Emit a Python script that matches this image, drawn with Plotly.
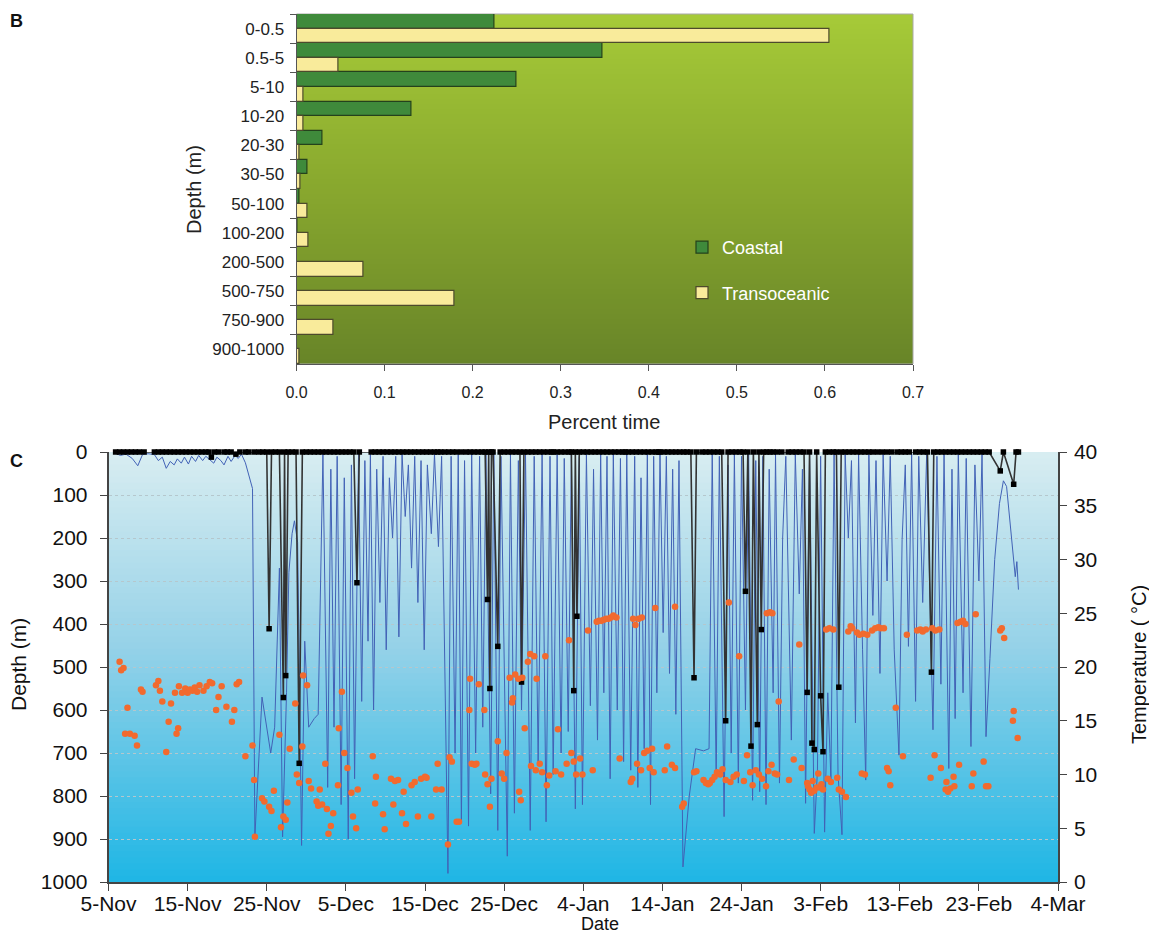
import plotly.graph_objects as go
from datetime import datetime, timedelta

# ---------------- Panel B data ----------------
depth_bins = ["0-0.5", "0.5-5", "5-10", "10-20", "20-30", "30-50", "50-100",
              "100-200", "200-500", "500-750", "750-900", "900-1000"]
coastal_pct = [0.225, 0.347, 0.250, 0.131, 0.030, 0.012, 0.003, 0.001, 0, 0, 0, 0]
transoceanic_pct = [0.605, 0.048, 0.008, 0.008, 0.003, 0.005, 0.013, 0.014,
                    0.076, 0.179, 0.042, 0.003]

# ---------------- Panel C data ----------------
start_date = datetime(2007, 11, 5)
date_tick_vals = ["2007-11-05", "2007-11-15", "2007-11-25", "2007-12-05", "2007-12-15",
                  "2007-12-25", "2008-01-04", "2008-01-14", "2008-01-24", "2008-02-03",
                  "2008-02-13", "2008-02-23", "2008-03-04"]
date_tick_labels = ["5-Nov", "15-Nov", "25-Nov", "5-Dec", "15-Dec", "25-Dec", "4-Jan",
                    "14-Jan", "24-Jan", "3-Feb", "13-Feb", "23-Feb", "4-Mar"]

# transoceanic dive track (days after 5 Nov, depth m)
transoceanic_day = [
    0.9, 1.5, 2.2, 3.0, 3.7, 4.3, 5.0, 5.8, 6.3, 6.8,
    7.3, 7.8, 8.3, 8.7, 9.2, 9.6, 10.1, 10.5, 11.0, 11.4,
    11.9, 12.3, 12.8, 13.3, 13.7, 14.2, 14.6, 15.1, 15.5, 16.0,
    16.4, 16.8, 17.3, 17.8, 18.2, 18.5, 19.4, 20.5, 21.0, 21.6,
    22.0, 22.5, 22.8, 23.2, 23.5, 23.9, 24.4, 24.8, 25.3, 26.0,
    26.5, 27.1, 27.7, 28.1, 28.5, 28.9, 29.4, 29.8, 30.3, 30.7,
    31.1, 31.6, 32.0, 32.4, 32.8, 33.1, 33.5, 33.9, 34.3, 34.7,
    35.1, 35.5, 35.9, 36.3, 36.7, 37.1, 37.5, 37.9, 38.3, 38.7,
    39.1, 39.5, 39.9, 40.3, 40.8, 41.2, 41.7, 42.1, 42.9, 43.3,
    43.8, 44.2, 44.6, 45.0, 45.5, 45.9, 46.4, 46.9, 47.3, 47.7,
    48.3, 48.7, 49.2, 49.6, 50.4, 50.8, 51.3, 51.8, 52.2, 52.7,
    53.3, 53.8, 54.3, 54.8, 55.3, 55.8, 56.2, 56.7, 57.2, 57.6,
    58.1, 58.5, 59.0, 59.5, 59.9, 60.4, 60.9, 61.3, 61.8, 62.2,
    62.6, 63.0, 63.4, 63.8, 64.3, 64.7, 65.1, 65.5, 66.0, 66.5,
    66.9, 67.3, 67.7, 68.1, 68.5, 68.9, 69.3, 69.7, 70.1, 70.5,
    70.9, 71.3, 71.7, 72.1, 72.6, 73.4, 74.2, 75.2, 75.9, 76.3,
    76.8, 77.2, 77.8, 78.3, 78.7, 79.1, 79.6, 80.0, 80.5, 80.9,
    81.4, 81.8, 82.3, 82.7, 83.1, 83.5, 84.0, 84.3, 84.8, 85.2,
    85.6, 86.3, 86.8, 87.3, 87.7, 88.1, 88.6, 89.2, 89.6, 90.0,
    90.5, 90.9, 91.3, 91.7, 92.2, 92.7, 93.1, 93.5, 93.9, 94.4,
    94.8, 95.3, 95.7, 96.1, 96.6, 97.0, 97.5, 97.9, 98.4, 98.8,
    99.3, 99.9, 100.3, 100.7, 101.1, 101.5, 102.0, 102.4, 102.9, 103.4,
    104.2, 104.7, 105.2, 105.6, 106.2, 106.6, 107.0, 107.4, 108.0, 108.4,
    109.0, 109.5, 110.0, 110.4, 110.9, 111.4, 112.0, 112.6, 113.1, 113.5,
    114.0, 114.4, 114.6, 114.8, 115.0]
transoceanic_depth = [
    3, 8, 5, 15, 32, 6, 4, 6, 20, 12,
    38, 22, 30, 16, 26, 12, 28, 10, 22, 8,
    20, 10, 18, 26, 12, 20, 30, 10, 22, 8,
    15, 5, 25, 60, 85, 895, 570, 700, 640, 270,
    895, 560, 280, 190, 160, 210, 915, 440, 640, 620,
    610, 5, 780, 40, 640, 10, 820, 60, 900, 30,
    760, 5, 580, 20, 440, 5, 600, 40, 350, 10,
    460, 60, 200, 10, 430, 5, 150, 30, 270, 10,
    350, 20, 460, 30, 190, 5, 220, 10, 980, 10,
    700, 5, 860, 20, 870, 5, 700, 10, 640, 5,
    795, 5, 880, 10, 940, 5, 840, 20, 600, 5,
    880, 10, 720, 5, 860, 10, 750, 5, 700, 15,
    650, 5, 830, 10, 820, 5, 590, 40, 670, 5,
    560, 10, 760, 5, 600, 15, 720, 5, 740, 10,
    780, 60, 690, 5, 820, 10, 560, 5, 420, 10,
    515, 40, 610, 20, 965, 800, 690, 695, 690, 5,
    760, 10, 848, 30, 700, 5, 770, 10, 600, 5,
    810, 20, 790, 10, 820, 40, 560, 5, 770, 200,
    10, 670, 5, 330, 40, 817, 5, 887, 740, 10,
    884, 560, 760, 5, 750, 890, 5, 200, 20, 630,
    5, 460, 763, 5, 380, 20, 515, 5, 300, 10,
    460, 705, 203, 30, 452, 5, 580, 10, 350, 5,
    646, 10, 540, 5, 736, 40, 620, 5, 560, 15,
    685, 30, 300, 5, 662, 480, 250, 120, 67, 80,
    180, 250, 290, 255, 320]

# coastal track: surface fixes (depth 0) and dives
coastal_surface_day = [
    0.9, 1.4, 1.9, 2.4, 2.9, 3.4, 3.9, 4.5,
    5.8, 6.3, 6.8, 7.3, 7.8, 8.3, 8.8, 9.3, 9.8, 10.3, 10.8, 11.3, 11.8, 12.3, 12.7,
    13.4, 13.9, 14.6, 15.0, 15.5, 16.6, 17.3, 17.7, 18.4, 19.0, 19.5, 20.0,
    20.6, 21.1, 21.6, 22.25, 22.7, 23.2, 23.7, 24.5, 25.0, 25.5, 26.0, 26.5, 27.0,
    27.5, 28.0, 28.5, 29.0, 29.5, 30.0, 30.5, 31.0, 31.7,
    33.2, 33.7, 34.2, 34.7, 35.2, 35.7, 36.2, 36.7, 37.2, 37.7, 38.2, 38.7, 39.2,
    39.7, 40.2, 40.7, 41.2, 41.6, 42.0, 42.5, 43.0, 43.5, 44.0, 44.6,
    45.2, 45.7, 46.2, 46.7, 47.2, 47.6, 48.05, 48.4, 48.6,
    49.5, 50.0, 50.5, 51.0, 51.5, 52.0, 52.5, 53.0, 53.5, 54.0, 54.5, 55.0, 55.5,
    56.0, 56.2, 56.7, 57.2, 57.7, 58.2, 58.5, 59.0, 59.5, 60.0, 60.5, 61.0, 61.5,
    62.0, 62.5, 63.0, 63.5, 64.0, 64.5, 65.0, 65.3,
    65.7, 66.2, 66.7, 67.2, 67.7, 68.2, 68.7, 69.2, 69.5, 69.7, 70.2, 70.7, 71.2,
    71.7, 72.2, 72.7, 73.1, 73.6, 74.3,
    75.0, 75.5, 76.0, 76.5, 77.0, 77.5, 78.3, 78.8, 79.3, 79.8, 80.2, 80.8, 81.5,
    82.2, 82.8, 83.2, 83.6, 84.0, 84.5, 85.1,
    85.9, 86.4, 86.9, 87.4, 87.9, 88.6, 89.5, 90.6, 91.1, 91.6, 92.0, 92.6, 93.1,
    93.6, 94.1, 94.6, 95.1, 95.6, 96.1, 96.6, 97.2, 97.8, 98.4, 99.0, 99.7, 100.2,
    100.7, 101.2,
    102.0, 102.5, 103.0, 103.5, 104.3, 104.8, 105.3, 105.8, 106.3, 106.8, 107.3,
    107.8, 108.3, 108.8, 109.3, 109.8, 110.3, 110.8, 111.3,
    113.1, 114.7, 115.0]
coastal_dive_day = [13.0, 16.1, 20.3, 22.1, 22.4, 24.1, 31.4, 47.9, 48.2, 49.2,
                    52.2, 58.8, 59.2, 74.0, 78.0, 80.5, 81.2, 82.0, 82.5, 88.3,
                    88.9, 89.2, 90.0, 90.3, 92.3, 104.0, 112.7, 114.4]
coastal_dive_depth = [12, 5, 411, 571, 520, 724, 304, 343, 550, 452,
                      535, 555, 382, 525, 625, 324, 684, 634, 413, 559,
                      677, 692, 567, 697, 547, 512, 44, 75]

# water temperature at depth (days after 5 Nov, deg C)
temp_day = [
    1.4, 1.6, 1.9, 2.4, 2.1, 2.7, 3.3, 3.6, 4.1, 4.3,
    6.0, 6.3, 6.5, 6.8, 7.3, 7.6, 7.9, 8.6, 8.8, 8.4,
    8.9, 9.3, 9.7, 10.0, 10.3, 10.6, 10.9, 11.2, 11.5, 12.0,
    12.4, 12.8, 13.1, 13.6, 13.9, 14.3, 14.9, 15.6, 15.9, 16.2,
    16.5, 17.3, 18.2, 18.4, 18.5, 19.4, 19.7, 20.3, 20.6, 20.9,
    21.6, 21.8, 22.1, 22.4, 22.6, 22.9, 23.6, 23.8, 24.1, 24.6,
    24.5, 25.1, 25.3, 25.6, 26.3, 26.5, 26.7, 27.0, 27.4, 27.6,
    27.8, 28.1, 28.4, 29.0, 29.1, 29.5, 29.8, 30.2, 30.7, 30.9,
    31.3, 31.5, 33.4, 33.7, 33.8, 34.7, 34.9, 35.7, 36.0, 36.2,
    36.6, 37.1, 37.3, 37.6, 38.3, 38.7, 39.1, 39.5, 40.0, 40.2,
    40.8, 41.4, 41.6, 42.1, 42.9, 43.1, 43.4, 44.0, 44.3, 45.6,
    45.7, 45.9, 46.3, 46.5, 46.8, 47.5, 47.6, 47.9, 48.2, 48.4,
    49.2, 49.7, 50.0, 50.3, 50.7, 51.0, 51.1, 51.4, 51.8, 51.9,
    52.1, 52.3, 52.6, 53.0, 53.3, 53.4, 53.8, 54.0, 54.1, 54.5,
    54.8, 55.2, 55.4, 55.7, 56.8, 56.5, 57.2, 57.9, 58.2, 58.5,
    58.8, 59.1, 59.6, 59.9, 60.6, 61.2, 61.7, 62.0, 62.3, 62.6,
    62.9, 63.2, 63.5, 63.8, 64.2, 64.6, 66.0, 66.2, 66.3, 66.6,
    66.8, 67.0, 67.4, 67.3, 67.7, 68.1, 68.4, 68.7, 68.9, 69.1,
    70.3, 70.6, 71.2, 71.6, 71.6, 72.5, 72.7, 74.0, 74.3, 75.2,
    75.5, 75.8, 76.0, 76.3, 76.6, 76.9, 77.3, 77.6, 78.0, 78.4,
    78.6, 79.0, 79.4, 79.7, 80.3, 80.7, 81.1, 81.4, 81.8, 82.2,
    82.6, 83.2, 83.6, 83.9, 83.1, 83.4, 83.8, 84.2, 84.5, 84.7,
    86.0, 86.6, 87.3, 87.6, 88.3, 88.4, 88.6, 88.8, 89.0, 89.2,
    89.5, 89.7, 89.9, 90.1, 90.3, 90.7, 91.1, 91.6, 90.9, 91.3,
    92.1, 92.3, 92.7, 93.2, 93.5, 93.8, 94.0, 94.6, 94.9, 95.2,
    95.4, 95.6, 95.9, 96.5, 96.9, 97.3, 97.6, 98.0, 98.4, 98.6,
    98.8, 99.5, 100.4, 100.9, 102.2, 102.6, 102.9, 103.3, 103.9, 104.1,
    104.5, 104.4, 105.0, 105.2, 105.8, 105.9, 106.1, 106.4, 106.8, 106.9,
    107.3, 107.5, 107.7, 108.0, 108.3, 109.3, 109.1, 109.6, 110.6, 110.9,
    111.2, 112.7, 112.9, 113.2, 114.4, 114.3, 114.9]
temp_c = [
    20.5, 19.7, 19.9, 16.2, 13.8, 13.8, 13.6, 12.7, 17.9, 17.7,
    18.3, 18.7, 17.8, 16.8, 12.1, 14.9, 16.6, 13.8, 14.3, 17.6,
    18.2, 17.6, 18.0, 17.6, 17.9, 17.8, 18.1, 17.7, 18.3, 17.8,
    18.2, 18.6, 18.5, 16.0, 17.2, 18.2, 16.3, 14.9, 16.0, 18.4,
    18.6, 11.7, 12.7, 9.5, 4.2, 7.8, 7.5, 7.0, 6.6, 8.5,
    13.7, 5.1, 6.1, 5.8, 7.4, 12.4, 16.6, 10.0, 9.2, 19.2,
    12.6, 18.3, 9.4, 8.7, 7.5, 7.1, 8.6, 7.2, 11.0, 6.8,
    4.5, 5.2, 6.4, 9.0, 14.3, 17.7, 12.0, 10.6, 8.3, 6.1,
    5.0, 8.6, 11.7, 7.3, 9.8, 6.3, 4.9, 9.6, 7.2, 9.4,
    9.5, 6.4, 8.4, 5.4, 9.0, 9.3, 6.1, 9.6, 9.8, 9.7,
    6.1, 8.6, 11.0, 8.6, 3.5, 11.6, 11.2, 5.6, 5.6, 16.0,
    18.9, 11.0, 10.9, 11.0, 18.4, 16.0, 10.0, 9.1, 7.0, 9.6,
    13.1, 10.1, 9.6, 12.0, 19.0, 16.7, 17.1, 19.3, 18.9, 8.4,
    7.6, 19.0, 14.3, 20.5, 21.2, 10.8, 21.0, 10.4, 18.9, 11.0,
    10.2, 21.0, 9.0, 9.9, 14.2, 10.3, 10.0, 11.0, 22.5, 12.0,
    11.2, 10.0, 11.5, 10.0, 23.4, 10.4, 24.2, 24.3, 24.3, 24.4,
    24.5, 24.5, 24.6, 24.8, 24.6, 11.5, 9.3, 9.6, 24.5, 23.9,
    11.0, 24.5, 24.6, 10.4, 12.0, 12.2, 10.6, 12.4, 10.2, 25.5,
    10.4, 12.6, 10.9, 10.6, 25.6, 7.0, 7.3, 10.2, 10.3, 9.5,
    9.2, 9.1, 9.2, 9.5, 9.8, 10.2, 10.0, 10.5, 9.5, 26.0,
    9.3, 9.8, 10.0, 21.0, 9.4, 11.8, 10.2, 9.0, 10.4, 10.0,
    9.6, 25.0, 25.1, 25.0, 8.9, 10.3, 10.9, 10.1, 10.0, 16.8,
    9.5, 11.4, 22.1, 10.6, 9.2, 8.9, 8.6, 8.3, 9.4, 8.5,
    8.8, 10.1, 8.8, 9.1, 8.6, 23.5, 23.6, 23.5, 9.6, 9.3,
    9.7, 8.6, 8.4, 7.9, 23.3, 23.8, 23.6, 23.2, 23.0, 10.1,
    23.1, 10.0, 23.0, 23.4, 23.6, 23.7, 23.6, 23.6, 10.6, 10.3,
    9.0, 16.2, 11.7, 23.0, 23.4, 23.5, 23.3, 23.5, 9.7, 23.6,
    23.4, 11.8, 23.5, 10.6, 8.6, 9.3, 8.4, 8.7, 9.8, 8.9,
    24.1, 10.9, 24.2, 24.3, 24.0, 10.1, 8.9, 24.9, 11.2, 8.9,
    8.9, 23.4, 23.6, 22.7, 15.9, 15.0, 13.4]

# ---------------- helpers ----------------
# the page body adds an 8 px margin; positions below are read from the reference
OX, OY = 8, 8
FW, FH = 1157 - OX, 937 - OY
FONT = "Liberation Sans, Arial, sans-serif"


def to_dates(days):
    return [start_date + timedelta(days=d) for d in days]


def px_x(x):
    return (x - OX) / FW


def px_y(y):
    return 1 - (y - OY) / FH


coastal_pts = sorted([(d, 0) for d in coastal_surface_day] +
                     list(zip(coastal_dive_day, coastal_dive_depth)))
coastal_day = [p[0] for p in coastal_pts]
coastal_depth = [p[1] for p in coastal_pts]

fig = go.Figure()

# Panel B bars
fig.add_trace(go.Bar(
    y=depth_bins, x=coastal_pct, orientation="h", name="Coastal",
    legendgroup="coastal",
    marker=dict(color="#3f8a3b", line=dict(color="#24421c", width=1.2)),
    xaxis="x", yaxis="y", hoverinfo="skip"))
fig.add_trace(go.Bar(
    y=depth_bins, x=transoceanic_pct, orientation="h", name="Transoceanic",
    legendgroup="trans",
    marker=dict(color="#f9eb9b", line=dict(color="#4d4a2c", width=1.2)),
    xaxis="x", yaxis="y", hoverinfo="skip"))

# Panel C traces
fig.add_trace(go.Scatter(
    x=to_dates(transoceanic_day), y=transoceanic_depth, mode="lines",
    line=dict(color="#4262b6", width=1), xaxis="x2", yaxis="y2",
    showlegend=False, hoverinfo="skip"))
fig.add_trace(go.Scatter(
    x=to_dates(temp_day), y=temp_c, mode="markers",
    marker=dict(color="#f26a2e", size=6.5, line=dict(width=0)),
    xaxis="x2", yaxis="y3", showlegend=False, hoverinfo="skip"))
fig.add_trace(go.Scatter(
    x=to_dates(coastal_day), y=coastal_depth, mode="lines+markers",
    line=dict(color="#333333", width=1.6),
    marker=dict(color="#000000", symbol="square", size=5.5),
    xaxis="x2", yaxis="y2", showlegend=False, hoverinfo="skip", cliponaxis=False))

# gradient backgrounds (styling)
shapes = []


def lerp(c1, c2, t):
    return tuple(int(round(a + (b - a) * t)) for a, b in zip(c1, c2))


def grad(stops, t):
    for i in range(len(stops) - 1):
        t0, c0 = stops[i]
        t1, c1 = stops[i + 1]
        if t0 <= t <= t1:
            return lerp(c0, c1, (t - t0) / (t1 - t0))
    return stops[-1][1]


N = 70
b_stops = [(0.0, (166, 202, 56)), (0.5, (136, 168, 46)), (1.0, (104, 132, 40))]
c_stops = [(0.0, (216, 237, 241)), (0.45, (150, 210, 232)), (1.0, (30, 182, 229))]
for i in range(N):
    t = (i + 0.5) / N
    cb = grad(b_stops, t)
    cc = grad(c_stops, t)
    y1 = 1 - i / N
    y0 = 1 - (i + 1) / N - 0.002
    shapes.append(dict(type="rect", xref="x domain", yref="y domain",
                       x0=0, x1=1, y0=max(y0, 0), y1=y1, layer="below",
                       line=dict(width=0), fillcolor="rgb(%d,%d,%d)" % cb))
    shapes.append(dict(type="rect", xref="x2 domain", yref="y2 domain",
                       x0=0, x1=1, y0=max(y0, 0), y1=y1, layer="below",
                       line=dict(width=0), fillcolor="rgb(%d,%d,%d)" % cc))
shapes.append(dict(type="rect", xref="x domain", yref="y domain", x0=0, x1=1,
                   y0=0, y1=1, layer="below", line=dict(color="#a8a8a8", width=1),
                   fillcolor="rgba(0,0,0,0)"))

annotations = [
    dict(text="<b>B</b>", x=px_x(16), y=px_y(21), font=dict(size=18, color="#111")),
    dict(text="<b>C</b>", x=px_x(16), y=px_y(461), font=dict(size=18, color="#111")),
    dict(text="Depth (m)", x=px_x(194), y=px_y(190), textangle=-90,
         font=dict(size=20, color="#222")),
    dict(text="Percent time", x=px_x(604), y=px_y(422),
         font=dict(size=20, color="#222")),
    dict(text="Depth (m)", x=px_x(18), y=px_y(665), textangle=-90,
         font=dict(size=21, color="#111")),
    dict(text="Temperature ( °C)", x=px_x(1139), y=px_y(665), textangle=-90,
         font=dict(size=20, color="#111")),
    dict(text="Date", x=px_x(600), y=px_y(924), font=dict(size=18, color="#111")),
]
for a in annotations:
    a.update(xref="paper", yref="paper", showarrow=False,
             xanchor="center", yanchor="middle")

fig.update_layout(
    width=FW, height=FH, margin=dict(l=0, r=0, t=0, b=0, autoexpand=False),
    paper_bgcolor="white", plot_bgcolor="rgba(0,0,0,0)",
    font=dict(family=FONT, color="#111"),
    barmode="group", bargap=0.0, bargroupgap=0.0,
    shapes=shapes, annotations=annotations,
    showlegend=True,
    legend=dict(x=px_x(682), y=px_y(229), xanchor="left", yanchor="top",
                bgcolor="rgba(0,0,0,0)", font=dict(size=18, color="white"),
                tracegroupgap=19, itemwidth=30, traceorder="grouped"),
    xaxis=dict(domain=[px_x(296.5), px_x(913)], range=[0, 0.7], tick0=0, dtick=0.1,
               tickformat=".1f", ticks="outside", ticklen=6, tickcolor="#555",
               showline=True, linecolor="#555", linewidth=1, showgrid=False,
               zeroline=False, anchor="y", automargin=False, ticklabelstandoff=8,
               tickfont=dict(size=16, color="#222")),
    yaxis=dict(domain=[px_y(364), px_y(14)], type="category",
               categoryorder="array", categoryarray=depth_bins,
               range=[len(depth_bins) - 0.5, -0.5], ticks="outside",
               tickson="boundaries", ticklen=6, tickcolor="#555",
               showline=True, linecolor="#555", showgrid=False, anchor="x",
               automargin=False, ticklabelstandoff=8,
               tickfont=dict(size=17, color="#222")),
    xaxis2=dict(domain=[px_x(108.5), px_x(1058)], type="date",
                range=["2007-11-05", "2008-03-04"], tickvals=date_tick_vals,
                ticktext=date_tick_labels, ticks="outside", ticklen=7,
                tickcolor="#444", showline=True, linecolor="#444", linewidth=1.5,
                showgrid=False, zeroline=False, anchor="y2", automargin=False,
                ticklabelstandoff=-5, tickfont=dict(size=21, color="#111")),
    yaxis2=dict(domain=[px_y(882), px_y(452)], range=[1000, 0], tick0=0, dtick=100,
                ticks="outside", ticklen=7, tickcolor="#444", showline=True,
                linecolor="#444", linewidth=1.5, showgrid=True, gridcolor="#b5c7cd",
                griddash="dot", gridwidth=1.2, zeroline=False, anchor="x2",
                automargin=False, ticklabelstandoff=8,
                tickfont=dict(size=21, color="#111")),
    yaxis3=dict(overlaying="y2", side="right", range=[0, 40], tick0=0, dtick=5,
                ticks="outside", ticklen=7, tickcolor="#444", showline=True,
                linecolor="#444", linewidth=1.5, showgrid=False, zeroline=False,
                anchor="x2", automargin=False, ticklabelstandoff=3,
                tickfont=dict(size=21, color="#111")),
)

fig.write_html("out.html")
